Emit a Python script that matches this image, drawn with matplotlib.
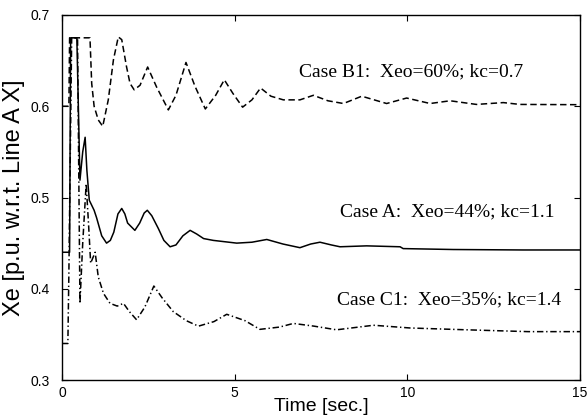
import matplotlib
matplotlib.use("Agg")
from matplotlib import pyplot as plt

# Case A (solid)
t_a = [0, 0.22, 0.25, 0.43, 0.52, 0.6, 0.67, 0.72, 0.79, 0.93, 1.0, 1.15, 1.29, 1.4, 1.5, 1.62,
       1.73, 1.82, 1.9, 2.11, 2.25, 2.38, 2.47, 2.6, 2.79, 2.95, 3.13, 3.3, 3.5, 3.71, 3.9, 4.1,
       4.38, 5.06, 5.5, 5.93, 6.4, 6.89, 7.2, 7.47, 7.8, 8.05, 8.82, 9.79, 9.88, 11.33, 13.35, 15]
x_a = [0.44, 0.44, 0.675, 0.675, 0.519, 0.55, 0.566, 0.53, 0.497, 0.486, 0.478, 0.458, 0.45,
       0.453, 0.462, 0.482, 0.488, 0.482, 0.472, 0.464, 0.472, 0.483, 0.486, 0.48, 0.466,
       0.453, 0.446, 0.448, 0.458, 0.464, 0.46, 0.455, 0.453, 0.450, 0.451, 0.454, 0.449,
       0.445, 0.449, 0.451, 0.448, 0.446, 0.447, 0.446, 0.444, 0.443, 0.4425, 0.4425]

# Case B1 (dashed)
t_b = [0, 0.2, 0.22, 0.81, 0.86, 0.93, 1.05, 1.18, 1.34, 1.49, 1.63, 1.73, 1.87, 1.97, 2.09,
       2.26, 2.48, 2.74, 3.08, 3.3, 3.59, 3.85, 4.15, 4.45, 4.7, 4.95, 5.23, 5.5, 5.75, 6.05,
       6.41, 6.89, 7.28, 7.7, 8.15, 8.68, 9.4, 9.98, 10.66, 11.24, 12.0, 12.78, 13.26, 15]
x_b = [0.6, 0.6, 0.675, 0.675, 0.625, 0.6, 0.585, 0.578, 0.607, 0.651, 0.676, 0.673, 0.643,
       0.625, 0.618, 0.623, 0.643, 0.621, 0.596, 0.612, 0.648, 0.622, 0.597, 0.612, 0.629,
       0.614, 0.599, 0.607, 0.62, 0.611, 0.607, 0.607, 0.612, 0.606, 0.603, 0.611, 0.603,
       0.609, 0.603, 0.606, 0.602, 0.604, 0.602, 0.6017]

# Case C1 (dash-dot)
t_c = [0, 0.17, 0.2, 0.28, 0.45, 0.52, 0.6, 0.7, 0.77, 0.83, 0.96, 1.05, 1.2, 1.39, 1.6, 1.78,
       1.95, 2.16, 2.4, 2.66, 2.9, 3.22, 3.6, 3.95, 4.4, 4.77, 5.3, 5.73, 6.3, 6.7, 7.3, 7.95,
       9.02, 10.08, 11.72, 13.5, 15]
x_c = [0.34, 0.34, 0.42, 0.675, 0.675, 0.384, 0.45, 0.515, 0.47, 0.428, 0.44, 0.413, 0.395,
       0.384, 0.381, 0.384, 0.375, 0.366, 0.38, 0.403, 0.39, 0.375, 0.365, 0.359, 0.364,
       0.372, 0.365, 0.3555, 0.358, 0.362, 0.359, 0.355, 0.36, 0.357, 0.355, 0.353, 0.353]

labels = ["Case B1:  Xeo=60%; kc=0.7", "Case A:  Xeo=44%; kc=1.1", "Case C1:  Xeo=35%; kc=1.4"]
label_pos = [(6.86, 0.6375), (8.05, 0.484), (7.96, 0.388)]

x_ticks = [0, 5, 10, 15]
y_ticks = [0.3, 0.4, 0.5, 0.6, 0.7]

fig = plt.figure(figsize=(5.87, 4.18), dpi=100)
ax = fig.add_axes([62 / 587, 38 / 418, 518 / 587, 365 / 418])

ax.plot(t_a, x_a, color="black", lw=1.1)
ax.plot(t_b, x_b, color="black", lw=1.1, dashes=(4.2, 2.3))
ax.plot(t_c, x_c, color="black", lw=1.1, dashes=(4.2, 1.8, 0.9, 1.8))

for s, (x, y) in zip(labels, label_pos):
    ax.text(x, y, s, family="Liberation Serif", fontsize=14, va="center", ha="left")

ax.set_xlim(0, 15)
ax.set_ylim(0.3, 0.7)
ax.set_xticks(x_ticks)
ax.set_yticks(y_ticks)
ax.set_xticklabels([str(v) for v in x_ticks], family="Liberation Sans", fontsize=10)
ax.set_yticklabels([f"{v:.1f}" for v in y_ticks], family="Liberation Sans", fontsize=10)
ax.tick_params(direction="in", top=True, right=True, length=4, width=0.8)
ax.tick_params(axis="y", pad=9)
ax.tick_params(axis="x", pad=4)
for sp in ax.spines.values():
    sp.set_linewidth(1.0)

ax.set_xlabel("Time [sec.]", family="Liberation Sans", fontsize=14, labelpad=-1)
ax.set_ylabel("Xe [p.u. w.r.t. Line A X]", family="Liberation Sans", fontsize=17)
ax.yaxis.set_label_coords(-0.072, 0.5)

fig.savefig("out.png", dpi=100)
